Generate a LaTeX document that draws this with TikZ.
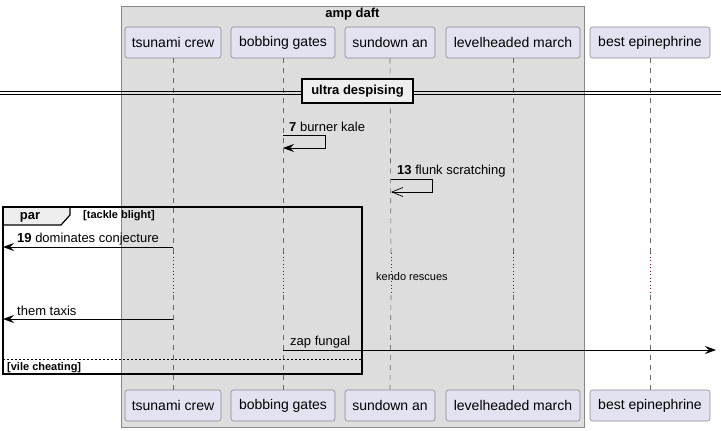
\documentclass[tikz,border=0pt]{standalone}
\usepackage{fontspec}
\setmainfont{Liberation Sans}
\usetikzlibrary{arrows.meta}
\definecolor{partfill}{HTML}{E2E2F0}
\definecolor{partline}{HTML}{8A8A95}
\definecolor{boxfill}{HTML}{DDDDDD}
\definecolor{boxline}{HTML}{888888}
\definecolor{lifecol}{HTML}{6A6A6A}
\definecolor{delaycol}{HTML}{A80036}
\definecolor{tabfill}{HTML}{EEEEEE}
\begin{document}
\begin{tikzpicture}[x=1pt,y=-1pt,
  part/.style={draw=partline, fill=partfill, rounded corners=2.5pt, minimum height=31pt, inner sep=0pt, line width=0.6pt, font=\fontsize{14}{16}\selectfont},
  life/.style={draw=lifecol, line width=0.6pt, dash pattern=on 5pt off 5pt},
  delayline/.style={draw=delaycol, line width=0.6pt, dash pattern=on 1pt off 2.5pt},
  msgline/.style={draw=black, line width=0.8pt},
  fullhead/.style={-{Stealth[length=11pt,width=8pt,inset=4pt]}},
  openhead/.style={-{Straight Barb[length=11pt,width=9pt,line width=0.7pt]}},
  msglabel/.style={anchor=base west, inner sep=0pt, font=\fontsize{13}{15}\selectfont},
  grplabel/.style={inner sep=0pt, font=\fontsize{11}{13}\selectfont\bfseries},
  frameline/.style={draw=black, line width=1.4pt}
]
\useasboundingbox (0,0) rectangle (721,431);
% box amp daft
\node[draw=boxline, fill=boxfill, line width=0.7pt, minimum width=463pt, minimum height=421pt, inner sep=0pt] (ampbox) at (352.5,216.5) {};
\node[font=\fontsize{13}{15}\selectfont\bfseries, inner sep=0pt] (amplabel) at (352.5,14.5) {amp daft};
% participants top
\node[part, minimum width=96pt] (tcT) at (173,42.5) {tsunami crew};
\node[part, minimum width=104pt] (bgT) at (283,42.5) {bobbing gates};
\node[part, minimum width=90pt] (saT) at (390,42.5) {sundown an};
\node[part, minimum width=134pt] (lmT) at (513,42.5) {levelheaded march};
\node[part, minimum width=120pt] (beT) at (650,42.5) {best epinephrine};
% participants bottom
\node[part, minimum width=96pt] (tcB) at (173,405.5) {tsunami crew};
\node[part, minimum width=104pt] (bgB) at (283,405.5) {bobbing gates};
\node[part, minimum width=90pt] (saB) at (390,405.5) {sundown an};
\node[part, minimum width=134pt] (lmB) at (513,405.5) {levelheaded march};
\node[part, minimum width=120pt] (beB) at (650,405.5) {best epinephrine};
% lifelines with delay
\foreach \n/\x in {tc/173,bg/283,sa/391,lm/513,be/650}{
  \coordinate (\n1) at (\x,253);
  \coordinate (\n2) at (\x,295);
  \draw[life] (\n T.south) -- (\n1);
  \draw[delayline] (\n1) -- (\n2);
  \draw[life] (\n2) -- (\n B.north);
}
\node[inner sep=0pt, anchor=west, font=\fontsize{11}{13}\selectfont] (delaytxt) at (376,277) {kendo rescues};
% divider
\draw[line width=0.8pt] (0,91) -- (721,91);
\draw[line width=0.8pt] (0,94.3) -- (721,94.3);
\node[draw=black, fill=tabfill, line width=1.5pt, minimum width=111pt, minimum height=24pt, inner sep=0pt, font=\fontsize{13}{15}\selectfont\bfseries] (divider) at (357.5,91) {ultra despising};
% message 7 self
\coordinate (m7a) at (283,135);
\coordinate (m7b) at (325,135);
\coordinate (m7c) at (325,148);
\coordinate (m7d) at (283,148);
\draw[msgline, fullhead] (m7a) -- (m7b) -- (m7c) -- (m7d);
\node[msglabel] (l7) at (289,131.5) {\textbf{7} burner kale};
% message 13 self
\coordinate (m13a) at (391,179);
\coordinate (m13b) at (432,179);
\coordinate (m13c) at (432,192);
\coordinate (m13d) at (391,192);
\draw[msgline, openhead] (m13a) -- (m13b) -- (m13c) -- (m13d);
\node[msglabel] (l13) at (397,174) {\textbf{13} flunk scratching};
% par frame
\coordinate (fTL) at (3,207);
\coordinate (fBR) at (362,374);
\draw[fill=tabfill, line width=1.2pt] (3,207) -- (70,207) -- (70,215) -- (61,225) -- (3,225) -- cycle;
\draw[frameline] (fTL) rectangle (fBR);
\node[inner sep=0pt, font=\fontsize{13}{15}\selectfont\bfseries] (partxt) at (30,217) {par};
\node[grplabel, anchor=west] (tackle) at (83,216) {[tackle blight]};
% message 19
\coordinate (m19a) at (173,247);
\coordinate (m19b) at (3,247);
\draw[msgline, fullhead] (m19a) -- (m19b);
\node[msglabel] (l19) at (17,242) {\textbf{19} dominates conjecture};
% them taxis
\coordinate (mtta) at (173,319);
\coordinate (mttb) at (3,319);
\draw[msgline, fullhead] (mtta) -- (mttb);
\node[msglabel] (ltt) at (17,315.5) {them taxis};
% zap fungal
\coordinate (mzfa) at (283,350);
\coordinate (mzfb) at (716,350);
\draw[msgline, fullhead] (mzfa) -- (mzfb);
\node[msglabel] (lzf) at (290,345) {zap fungal};
% else
\coordinate (e1) at (3,359);
\coordinate (e2) at (362,359);
\draw[line width=0.7pt, dash pattern=on 2pt off 2pt] (e1) -- (e2);
\node[grplabel, anchor=west] (vile) at (7,367.5) {[vile cheating]};
\end{tikzpicture}
\end{document}
